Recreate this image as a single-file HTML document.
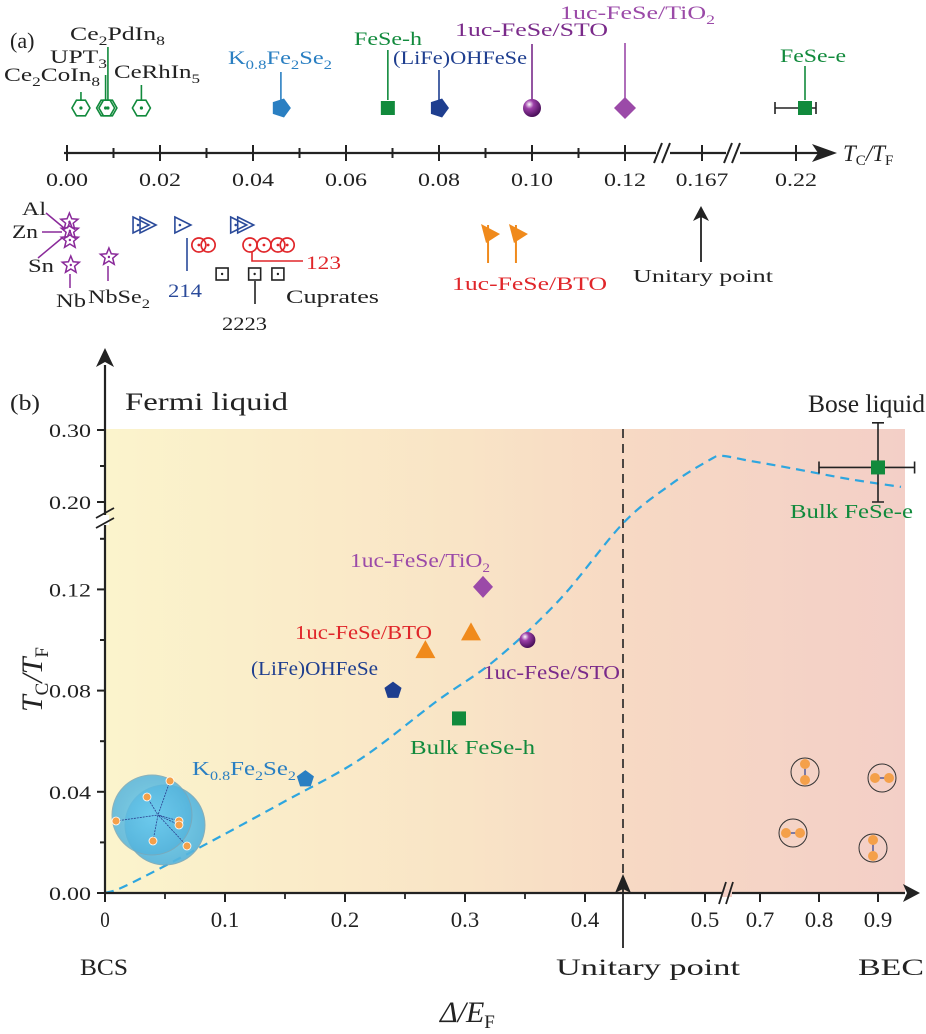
<!DOCTYPE html>
<html><head><meta charset="utf-8"><style>
body{margin:0;background:#fff}
svg{display:block;font-family:"Liberation Serif",serif}
</style></head><body>
<svg id="fig" width="926" height="1034" viewBox="0 0 926 1034">
<defs>
<linearGradient id="bg" x1="0" x2="1" y1="0" y2="0">
<stop offset="0" stop-color="#fbf4cc"/><stop offset="0.45" stop-color="#f9e4c6"/><stop offset="0.65" stop-color="#f7d9c4"/><stop offset="1" stop-color="#f3cfc7"/>
</linearGradient>
<radialGradient id="sph" cx="0.35" cy="0.3" r="0.7"><stop offset="0" stop-color="#fff"/><stop offset="0.35" stop-color="#9c3fa8"/><stop offset="1" stop-color="#4a0f5a"/></radialGradient>
<radialGradient id="blob" cx="0.5" cy="0.5" r="0.5"><stop offset="0" stop-color="#6ccbef"/><stop offset="1" stop-color="#55b4dc"/></radialGradient>
</defs>
<g id="pa"></g>
<g id="pb"></g>
</svg>
<script>
// ---------- Panel (a) data ----------
const aTopNames = ["Ce2CoIn8","UPT3","Ce2PdIn8","CeRhIn5","K0.8Fe2Se2","FeSe-h","(LiFe)OHFeSe","1uc-FeSe/STO","1uc-FeSe/TiO2","FeSe-e"];
const aTopValues = [0.003,0.0083,0.0088,0.016,0.046,0.069,0.080,0.100,0.120,0.229];
const aTicks = [0,0.02,0.04,0.06,0.08,0.10,0.12];
const aTickLabels = ["0.00","0.02","0.04","0.06","0.08","0.10","0.12"];
const aExtraTicks = [0.167,0.22];
const aExtraLabels = ["0.167","0.22"];
const aStarValues = [0.0003,0.0004,0.0004,0.0006,0.0088];
const aTriValues = [0.017,0.026,0.038];
const aCircValues = [0.029,0.031,0.04,0.043,0.046,0.048];
const aSqValues = [0.034,0.041,0.046];
const aFlagValues = [0.097,0.103];

// ---------- Panel (b) data ----------
const bNames = ["K0.8Fe2Se2","(LiFe)OHFeSe","Bulk FeSe-h","1uc-FeSe/BTO a","1uc-FeSe/BTO b","1uc-FeSe/STO","1uc-FeSe/TiO2","Bulk FeSe-e"];
const bX = [0.167,0.240,0.295,0.267,0.305,0.352,0.315,0.90];
const bY = [0.045,0.080,0.069,0.096,0.103,0.100,0.121,0.248];
const bYTicks = [0,0.04,0.08,0.12,0.20,0.30];
const bYTickLabels = ["0.00","0.04","0.08","0.12","0.20","0.30"];
const bXTicks = [0,0.1,0.2,0.3,0.4,0.5,0.7,0.8,0.9];
const bXTickLabels = ["0","0.1","0.2","0.3","0.4","0.5","0.7","0.8","0.9"];
const curveX = [0,0.018,0.075,0.149,0.213,0.277,0.325,0.379,0.432,0.472,0.515,0.56,0.65,0.739,0.85,0.939];
const curveY = [0,0.003,0.017,0.036,0.053,0.076,0.092,0.116,0.166,0.225,0.258,0.264,0.258,0.249,0.232,0.221];

const NS="http://www.w3.org/2000/svg";
function mk(parent,tag,attrs,text){const e=document.createElementNS(NS,tag);for(const k in attrs)e.setAttribute(k,attrs[k]);if(text!==undefined)e.innerHTML=text;parent.appendChild(e);return e;}
function txt(parent,x,y,size,color,content,w){const a={x:x,y:y,'font-size':size,fill:color};if(w){a.textLength=w;a.lengthAdjust='spacingAndGlyphs';}return mk(parent,'text',a,content);}
const pa=document.getElementById('pa'), pb=document.getElementById('pb');

// axis a
function ax(v){ if(v<=0.125) return 67+v*4650; if(v<=0.19) return 702+(v-0.167)*1300; return 796+(v-0.22)*1000; }
const AY=153;
let e;
e=mk(pa,'line',{x1:64,y1:AY,x2:822,y2:AY,stroke:'#222','stroke-width':2.2});

e=mk(pa,'path',{d:`M837 ${AY} L812 ${AY-9} L818 ${AY} L812 ${AY+9}Z`,fill:'#222'});

aTicks.forEach((t,i)=>{const x=ax(t);
 e=mk(pa,'line',{x1:x,y1:AY-8,x2:x,y2:AY+8,stroke:'#222','stroke-width':2});
 e=mk(pa,'text',{x:x-21,y:AY+33,'font-size':19,fill:'#222',textLength:42,lengthAdjust:'spacingAndGlyphs'},aTickLabels[i]);
 if(i<aTicks.length-1){e=mk(pa,'line',{x1:ax(t+0.01),y1:AY-5,x2:ax(t+0.01),y2:AY+5,stroke:'#222','stroke-width':2});}
});
aExtraTicks.forEach((t,i)=>{const x=ax(t);const w=aExtraLabels[i].length*10.5;
 e=mk(pa,'line',{x1:x,y1:AY-8,x2:x,y2:AY+8,stroke:'#222','stroke-width':2});
 e=mk(pa,'text',{x:x-w/2,y:AY+33,'font-size':19,fill:'#222',textLength:w,lengthAdjust:'spacingAndGlyphs'},aExtraLabels[i]);
});
[663,733].forEach(bx=>{e=mk(pa,'g',{});
 mk(e,'rect',{x:bx-7,y:AY-3,width:14,height:6,fill:'#fff'});
 mk(e,'path',{d:`M${bx-9} ${AY+10} L${bx-1} ${AY-10} M${bx-1} ${AY+10} L${bx+7} ${AY-10}`,stroke:'#222','stroke-width':2,fill:'none'});});
e=mk(pa,'text',{x:843,y:161,'font-size':23,fill:'#222','font-style':'italic'},'T<tspan font-size="15" font-style="normal" dy="4">C</tspan><tspan dy="-4">/T</tspan><tspan font-size="15" font-style="normal" dy="4">F</tspan>');

e=mk(pa,'text',{x:10,y:48,'font-size':22,fill:'#222'},'(a)');

// top markers
const G='#118a3c',MY=108;
function hexm(x,y){const g=mk(pa,'g',{});let p='';for(let k=0;k<6;k++){const a=Math.PI/3*k;p+=(x+9*Math.cos(a))+','+(y+9*Math.sin(a))+' ';}mk(g,'polygon',{points:p,fill:'none',stroke:G,'stroke-width':1.6});mk(g,'circle',{cx:x,cy:y,r:1.6,fill:G});return g;}
const S='<tspan font-size="13" dy="5">', E='</tspan><tspan dy="-5">';
const topLabels=[
 {t:'Ce'+S+'2'+E+'CoIn</tspan>'+S+'8</tspan>',lx:4,ly:81,c:'#222',ly2:92,w:96},
 {t:'UPT'+S+'3</tspan>',lx:50,ly:63,c:'#222',ly2:75,w:57},
 {t:'Ce'+S+'2'+E+'PdIn</tspan>'+S+'8</tspan>',lx:70,ly:40,c:'#222',ly2:47,w:95},
 {t:'CeRhIn'+S+'5</tspan>',lx:114,ly:78,c:'#222',ly2:85,w:86},
 {t:'K'+S+'0.8'+E+'Fe</tspan>'+S+'2'+E+'Se</tspan>'+S+'2</tspan>',lx:228,ly:64,c:'#2a7fc2',ly2:72,w:104},
 {t:'FeSe-h',lx:354,ly:45,c:G,ly2:50,w:68},
 {t:'(LiFe)OHFeSe',lx:393,ly:64,c:'#1e3e8f',ly2:70,w:134},
 {t:'1uc-FeSe/STO',lx:455,ly:36,c:'#7a2a8a',ly2:44,w:153},
 {t:'1uc-FeSe/TiO'+S+'2</tspan>',lx:560,ly:19,c:'#9b4aa8',ly2:43,w:155},
 {t:'FeSe-e',lx:780,ly:62,c:G,ly2:66,w:66}];
aTopValues.forEach((v,i)=>{const x=ax(v),L=topLabels[i];
 const g=mk(pa,'g',{});
 const col=L.c==='#222'?G:L.c;
 mk(g,'line',{x1:x,y1:L.ly2,x2:x,y2:MY-8,stroke:col,'stroke-width':1.6});
 txt(g,L.lx,L.ly,19,L.c,L.t,L.w);
 if(i<4){const h=hexm(x,MY);g.appendChild(h);}
 else if(i===4||i===6){let p='';for(let k=0;k<5;k++){const a=2*Math.PI/5*k;p+=(x+10*Math.cos(a))+','+(MY+10*Math.sin(a))+' ';}mk(g,'polygon',{points:p,fill:i===4?'#2a7fc2':'#1e3e8f'});}
 else if(i===5||i===9){if(i===9){mk(g,'path',{d:`M${ax(0.199)} ${MY} H${ax(0.24)} M${ax(0.199)} ${MY-6}V${MY+6} M${ax(0.24)} ${MY-6}V${MY+6}`,stroke:'#222','stroke-width':1.6});}
  mk(g,'rect',{x:x-7,y:MY-7,width:14,height:14,fill:G});}
 else if(i===7){mk(g,'circle',{cx:x,cy:MY,r:9,fill:'url(#sph)'});}
 else {mk(g,'polygon',{points:`${x},${MY-11} ${x+11},${MY} ${x},${MY+11} ${x-11},${MY}`,fill:'#9b4aa8'});}
});

// bottom markers
const P='#8a2a9a';
function star(g,x,y){let p='';for(let k=0;k<10;k++){const r=k%2?4:9,a=-Math.PI/2+Math.PI/5*k;p+=(x+r*Math.cos(a))+','+(y+r*Math.sin(a))+' ';}mk(g,'polygon',{points:p,fill:'none',stroke:P,'stroke-width':1.5});mk(g,'circle',{cx:x,cy:y,r:1.2,fill:P});}
const starY=[222,231,240,265,257];
let g=mk(pa,'g',{});
aStarValues.forEach((v,i)=>star(g,ax(v)+1,starY[i]));
mk(g,'path',{d:'M46 213 L64 228 M42 232 L62 232 M38 258 L62 238 M70 274 V288 M108 266 V281',stroke:P,'stroke-width':1.5,fill:'none'});
[['Al',22,215,24],['Zn',12,238,26],['Sn',28,272,26],['Nb',56,307,30],['NbSe'+S+'2</tspan>',88,303,62]].forEach(t=>txt(g,t[1],t[2],19,'#222',t[0],t[3]));
const B2='#2a4a9a';
g=mk(pa,'g',{});
const triDouble=[true,false,true];
aTriValues.forEach((v,i)=>{const x=ax(v)-6;const y=225;
 mk(g,'polygon',{points:`${x-7},${y-8} ${x+9},${y} ${x-7},${y+8}`,fill:'none',stroke:B2,'stroke-width':1.6});mk(g,'circle',{cx:x-2,cy:y,r:1.3,fill:B2});
 if(triDouble[i])mk(g,'polygon',{points:`${x},${y-8} ${x+16},${y} ${x},${y+8}`,fill:'none',stroke:B2,'stroke-width':1.6});});
mk(g,'line',{x1:187,y1:238,x2:187,y2:271,stroke:B2,'stroke-width':1.6});
txt(g,168,297,19,B2,'214',34);
const R='#e0262a';
g=mk(pa,'g',{});
aCircValues.forEach(v=>{const x=ax(v)-3;mk(g,'circle',{cx:x,cy:245,r:7,fill:'none',stroke:R,'stroke-width':1.7});mk(g,'circle',{cx:x,cy:245,r:1.4,fill:R});});
mk(g,'path',{d:'M252 252 V261 H303',stroke:R,'stroke-width':1.6,fill:'none'});
txt(g,306,269,19,R,'123',35);
g=mk(pa,'g',{});
aSqValues.forEach(v=>{const x=ax(v)-3;mk(g,'rect',{x:x-6,y:268,width:12,height:12,fill:'none',stroke:'#222','stroke-width':1.6});mk(g,'circle',{cx:x,cy:274,r:1.2,fill:'#222'});});
mk(g,'line',{x1:255,y1:281,x2:255,y2:304,stroke:'#222','stroke-width':1.6});
txt(g,222,330,19,'#222','2223',45);
txt(g,286,303,19,'#222','Cuprates',93);
g=mk(pa,'g',{});
aFlagValues.forEach(v=>{const x=ax(v)-30;mk(g,'line',{x1:x,y1:225,x2:x,y2:263,stroke:'#f08a1c','stroke-width':2});mk(g,'polygon',{points:`${x-7},${224} ${x+12},${234} ${x-2},${243}`,fill:'#f08a1c'});});
txt(g,452,290,19,R,'1uc-FeSe/BTO',155);
g=mk(pa,'g',{});
mk(g,'line',{x1:701,y1:262,x2:701,y2:215,stroke:'#222','stroke-width':1.8});
mk(g,'polygon',{points:'701,206 693,221 701,217 709,221',fill:'#222'});
txt(g,633,282,18,'#222','Unitary point',140);

// ---------- Panel b ----------
function bx(v){ if(v<=0.5) return 105+v*1200; if(v<0.7) return 705+(v-0.5)*275; return 760+(v-0.7)*590; }
function by(v){ if(v<=0.14) return 893-v*2530; if(v<0.2) return 539-(v-0.14)*617; return 502-(v-0.20)*720; }
e=mk(pb,'rect',{x:105,y:429,width:800,height:464,fill:'url(#bg)'});
e=mk(pb,'line',{x1:623,y1:429,x2:623,y2:893,stroke:'#222','stroke-width':1.6,'stroke-dasharray':'9,6'});
const cp=curveX.map((v,i)=>[bx(v),by(curveY[i])]);
let d='M'+cp[0][0]+' '+cp[0][1];
for(let i=0;i<cp.length-1;i++){const p0=cp[Math.max(0,i-1)],p1=cp[i],p2=cp[i+1],p3=cp[Math.min(cp.length-1,i+2)];
 d+=` C${(p1[0]+(p2[0]-p0[0])/6).toFixed(1)} ${(p1[1]+(p2[1]-p0[1])/6).toFixed(1)} ${(p2[0]-(p3[0]-p1[0])/6).toFixed(1)} ${(p2[1]-(p3[1]-p1[1])/6).toFixed(1)} ${p2[0].toFixed(1)} ${p2[1].toFixed(1)}`;}
e=mk(pb,'path',{d:d,fill:'none',stroke:'#2ea6df','stroke-width':2.2,'stroke-dasharray':'9,6','stroke-linejoin':'round'});
e=mk(pb,'line',{x1:105,y1:893,x2:905,y2:893,stroke:'#222','stroke-width':2.2});
e=mk(pb,'path',{d:'M920 893 L903 884 L907 893 L903 902Z',fill:'#222'});
e=mk(pb,'line',{x1:105,y1:893,x2:105,y2:365,stroke:'#222','stroke-width':2.2});
e=mk(pb,'path',{d:'M105 348 L96 367 L105 362 L114 367Z',fill:'#222'});
bYTicks.forEach((t,i)=>{const y=by(t);
 e=mk(pb,'line',{x1:97,y1:y,x2:105,y2:y,stroke:'#222','stroke-width':2});
 e=mk(pb,'text',{x:49,y:y+7,'font-size':19,fill:'#222',textLength:42,lengthAdjust:'spacingAndGlyphs'},bYTickLabels[i]);});
[0.02,0.06,0.10,0.14,0.25].forEach(t=>{e=mk(pb,'line',{x1:100,y1:by(t),x2:105,y2:by(t),stroke:'#222','stroke-width':2});});
e=mk(pb,'g',{});
mk(e,'rect',{x:101,y:515,width:8,height:10,fill:'#fff'});mk(e,'path',{d:'M96 518 L114 508 M96 528 L114 518',stroke:'#222','stroke-width':1.8});
bXTicks.forEach((t,i)=>{const x=bx(t);const w=bXTickLabels[i].length*9.5;
 e=mk(pb,'line',{x1:x,y1:893,x2:x,y2:902,stroke:'#222','stroke-width':2});
 e=mk(pb,'text',{x:x-w/2,y:927,'font-size':22,fill:'#222',textLength:w,lengthAdjust:'spacingAndGlyphs'},bXTickLabels[i]);});
[0.05,0.15,0.25,0.35,0.45].forEach(t=>{e=mk(pb,'line',{x1:bx(t),y1:893,x2:bx(t),y2:899,stroke:'#222','stroke-width':1.8});});
e=mk(pb,'g',{});
mk(e,'rect',{x:722,y:889,width:10,height:8,fill:'#f3d0c7'});mk(e,'path',{d:'M719 904 L726 882 M726 904 L733 882',stroke:'#222','stroke-width':1.8});
e=mk(pb,'text',{x:-712,y:42,'font-size':30,fill:'#222','font-style':'italic',transform:'rotate(-90)'},'T<tspan font-size="19" font-style="normal" dy="6">C</tspan><tspan dy="-6">/T</tspan><tspan font-size="19" font-style="normal" dy="6">F</tspan>');

e=mk(pb,'text',{x:440,y:1022,'font-size':30,fill:'#222','font-style':'italic'},'Δ/E<tspan font-size="19" font-style="normal" dy="6">F</tspan>');

[['(b)',10,410,22,'panel-b-label',30],['Fermi liquid',125,410,25,'fermi-liquid-label',163],['Bose liquid',808,412,25,'bose-liquid-label',117],['BCS',80,975,23,'bcs-label',48],['Unitary point',556,975,23,'unitary-point-label',184],['BEC',858,975,23,'bec-label',66]].forEach(t=>{e=txt(pb,t[1],t[2],t[3],'#222',t[0],t[5]);});
e=mk(pb,'g',{});
mk(e,'line',{x1:623,y1:948,x2:623,y2:885,stroke:'#222','stroke-width':1.8});mk(e,'polygon',{points:'623,874 615,893 623,889 631,893',fill:'#222'});
const bCol=['#2a7fc2','#1e3e8f','#118a3c','#f08a1c','#f08a1c','#7a2a8a','#9b4aa8','#118a3c'];
bX.forEach((v,i)=>{const x=bx(v),y=by(bY[i]);const g=mk(pb,'g',{});
 
 
 const c=bCol[i];
 if(i<2){let p='';for(let k=0;k<5;k++){const a=-Math.PI/2+2*Math.PI/5*k;p+=(x+9*Math.cos(a))+','+(y+9*Math.sin(a))+' ';}mk(g,'polygon',{points:p,fill:c});}
 else if(i===2||i===7){if(i===7)mk(g,'path',{d:`M${bx(0.8)} ${y} H${bx(0.962)} M${bx(0.8)} ${y-6}V${y+6} M${bx(0.962)} ${y-6}V${y+6} M${x} ${by(0.31)} V${by(0.2)} M${x-6} ${by(0.31)} H${x+6} M${x-6} ${by(0.2)} H${x+6}`,stroke:'#222','stroke-width':1.6});mk(g,'rect',{x:x-7,y:y-7,width:14,height:14,fill:c});}
 else if(i<5){mk(g,'polygon',{points:`${x},${y-10} ${x+10},${y+8} ${x-10},${y+8}`,fill:c});}
 else if(i===5){mk(g,'circle',{cx:x,cy:y,r:8,fill:'url(#sph)'});}
 else {mk(g,'polygon',{points:`${x},${y-11} ${x+10},${y} ${x},${y+11} ${x-10},${y}`,fill:c});}
});
const lab=[['K'+S+'0.8'+E+'Fe</tspan>'+S+'2'+E+'Se</tspan>'+S+'2</tspan>',192,775,'#2a7fc2',104],
['(LiFe)OHFeSe',251,675,'#1e3e8f',127],['Bulk FeSe-h',410,754,'#118a3c',125],['1uc-FeSe/BTO',295,639,'#e0262a',137],['1uc-FeSe/STO',483,679,'#7a2a8a',137],
['1uc-FeSe/TiO'+S+'2</tspan>',350,567,'#9b4aa8',140],['Bulk FeSe-e',790,518,'#118a3c',123]];
lab.forEach(t=>{e=txt(pb,t[1],t[2],20,t[3],t[0],t[4]);});
e=mk(pb,'g',{});
mk(e,'circle',{cx:165,cy:825,r:40,fill:'url(#blob)',stroke:'#7aa7b8','stroke-width':1,opacity:0.9});
mk(e,'circle',{cx:152,cy:815,r:40,fill:'url(#blob)',stroke:'#7aa7b8','stroke-width':1,opacity:0.85});
[[116,821],[147,797],[170,781],[179,821],[153,841],[187,846],[179,825]].forEach(p=>{mk(e,'path',{d:`M${p[0]} ${p[1]} L158 815`,stroke:'#2a3e8f','stroke-width':0.8,'stroke-dasharray':'2,1'});mk(e,'circle',{cx:p[0],cy:p[1],r:4,fill:'#f4a04a',stroke:'#fff','stroke-width':0.8});});
[[805,772,1],[882,778,0],[793,833,0],[873,848,0.5]].forEach(p=>{e=mk(pb,'g',{});
 mk(e,'circle',{cx:p[0],cy:p[1],r:14,fill:'none',stroke:'#333','stroke-width':1});
 const dx=p[2]?0:7,dy=p[2]?8:0;
 mk(e,'line',{x1:p[0]-dx,y1:p[1]-dy,x2:p[0]+dx,y2:p[1]+dy,stroke:'#2a3e8f','stroke-width':1.2});
 mk(e,'circle',{cx:p[0]-dx,cy:p[1]-dy,r:5,fill:'#f4a04a'});mk(e,'circle',{cx:p[0]+dx,cy:p[1]+dy,r:5,fill:'#f4a04a'});});
</script>
</body></html>
